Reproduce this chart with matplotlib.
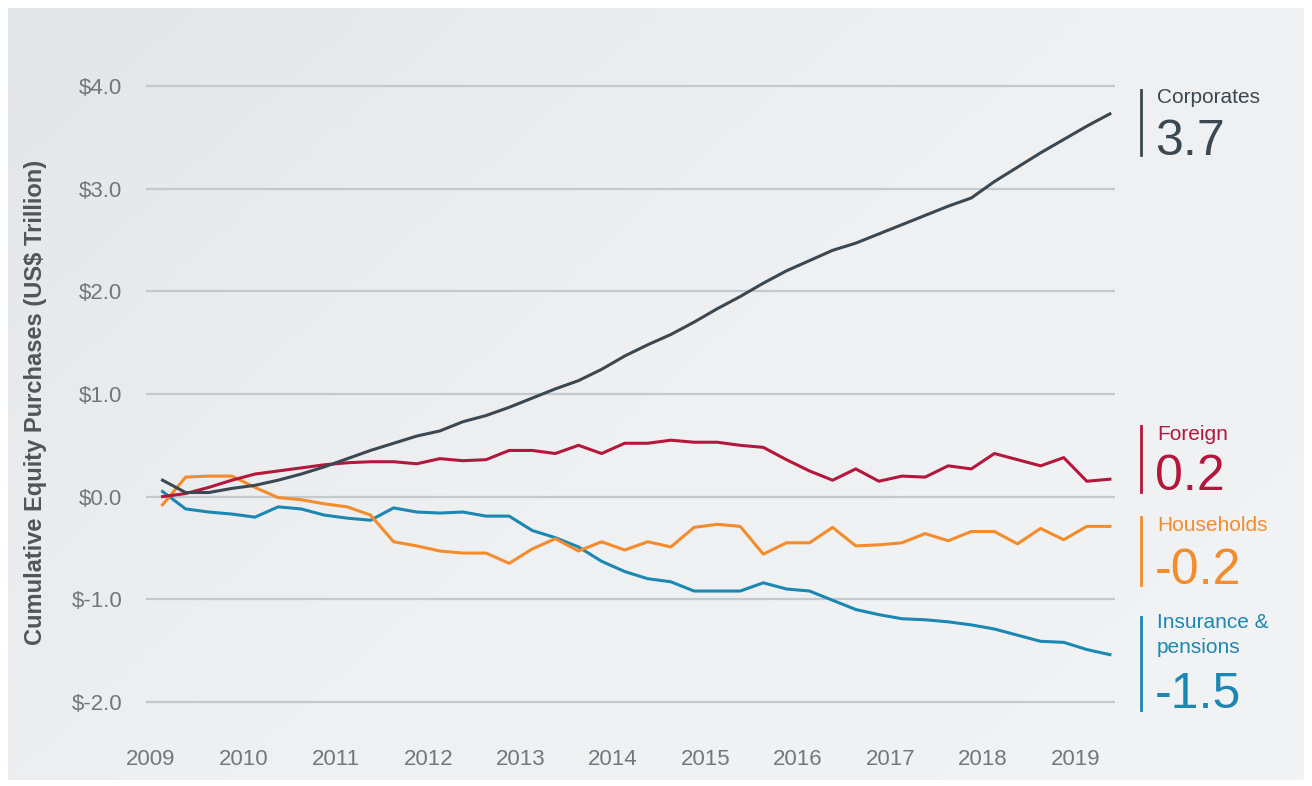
import numpy as np
import matplotlib
matplotlib.use("Agg")
import matplotlib.pyplot as plt
from matplotlib.colors import LinearSegmentedColormap

# quarterly observations, 2009 Q1 .. 2019 Q2 (decimal year, mid-quarter)
quarters = 2009.125 + 0.25 * np.arange(42)

corporates = [0.16, 0.04, 0.04, 0.08, 0.11, 0.16, 0.22, 0.29, 0.37, 0.45,
              0.52, 0.59, 0.64, 0.73, 0.79, 0.87, 0.96, 1.05, 1.13, 1.24,
              1.37, 1.48, 1.58, 1.70, 1.83, 1.95, 2.08, 2.20, 2.30, 2.40,
              2.47, 2.56, 2.65, 2.74, 2.83, 2.91, 3.07, 3.21, 3.35, 3.48,
              3.61, 3.73]
foreign = [0.00, 0.03, 0.09, 0.16, 0.22, 0.25, 0.28, 0.31, 0.33, 0.34,
           0.34, 0.32, 0.37, 0.35, 0.36, 0.45, 0.45, 0.42, 0.50, 0.42,
           0.52, 0.52, 0.55, 0.53, 0.53, 0.50, 0.48, 0.36, 0.25, 0.16,
           0.27, 0.15, 0.20, 0.19, 0.30, 0.27, 0.42, 0.36, 0.30, 0.38,
           0.15, 0.17]
households = [-0.08, 0.19, 0.20, 0.20, 0.09, -0.01, -0.03, -0.07, -0.10, -0.18,
              -0.44, -0.48, -0.53, -0.55, -0.55, -0.65, -0.51, -0.41, -0.53, -0.44,
              -0.52, -0.44, -0.49, -0.30, -0.27, -0.29, -0.56, -0.45, -0.45, -0.30,
              -0.48, -0.47, -0.45, -0.36, -0.43, -0.34, -0.34, -0.46, -0.31, -0.42,
              -0.29, -0.29]
insurance = [0.05, -0.12, -0.15, -0.17, -0.20, -0.10, -0.12, -0.18, -0.21, -0.23,
             -0.11, -0.15, -0.16, -0.15, -0.19, -0.19, -0.33, -0.40, -0.49, -0.63,
             -0.73, -0.80, -0.83, -0.92, -0.92, -0.92, -0.84, -0.90, -0.92, -1.01,
             -1.10, -1.15, -1.19, -1.20, -1.22, -1.25, -1.29, -1.35, -1.41, -1.42,
             -1.49, -1.54]

series_names = ["Corporates", "Foreign", "Households", "Insurance &\npensions"]
end_labels = ["3.7", "0.2", "-0.2", "-1.5"]
colors = ["#3b4851", "#b3173c", "#f48c2c", "#1b87b3"]

year_ticks = list(range(2009, 2020))
y_ticks = [-2.0, -1.0, 0.0, 1.0, 2.0, 3.0, 4.0]
y_ticklabels = ["$" + format(v, ".1f") for v in y_ticks]

W, H = 1312, 786
plt.rcParams["font.family"] = ["Liberation Sans", "DejaVu Sans"]

fig = plt.figure(figsize=(W / 100, H / 100), dpi=100)
fig.patch.set_facecolor("white")


def px(x, y):
    return x / W, 1 - y / H


# light gray panel with a soft gradient
bg = fig.add_axes([8 / W, 1 - 780 / H, 1296 / W, 772 / H], zorder=0)
gx, gy = np.meshgrid(np.linspace(0, 1, 200), np.linspace(0, 1, 120))
grad = 0.6 * gx + 0.4 * gy
cmap = LinearSegmentedColormap.from_list("bg", ["#e3e6e9", "#eff0f2", "#f2f3f4"])
bg.imshow(grad, cmap=cmap, aspect="auto", extent=[0, 1, 0, 1], origin="upper")
bg.set_axis_off()

ax = fig.add_axes([146 / W, 1 - 707 / H, 969 / W, 626 / H], zorder=1)
ax.patch.set_alpha(0)

for vals, c in zip([insurance, households, foreign, corporates], colors[::-1]):
    ax.plot(quarters, vals, color=c, lw=2.2, solid_joinstyle="round", zorder=3)

ax.set_xlim(2008.946, 2019.43)
ax.set_ylim(-2.05, 4.05)
ax.set_yticks(y_ticks)
ax.set_yticklabels(y_ticklabels)
ax.set_xticks(year_ticks)
ax.set_xticklabels([str(y) for y in year_ticks])
ax.grid(axis="y", color="#c4c9cd", lw=1.6, zorder=1)
ax.tick_params(axis="both", length=0, labelsize=16, labelcolor="#73777b")
ax.tick_params(axis="y", pad=17)
ax.tick_params(axis="x", pad=30)
for s in ax.spines.values():
    s.set_visible(False)

fig.text(*px(36, 402), "Cumulative Equity Purchases (US$ Trillion)", rotation=90,
         ha="center", va="center", fontsize=17, fontweight="bold", color="#4f555a")

# right-hand labels: (bar top, bar bottom, name top, number baseline)
label_layout = [
    (90, 155, 88, 155),
    (426, 492, 425, 490),
    (517, 585, 516, 584),
    (617, 710, 613, 708),
]
for name, val, c, (b0, b1, name_y, val_y) in zip(series_names, end_labels, colors, label_layout):
    fig.add_artist(plt.Line2D([1141 / W, 1141 / W], [1 - b0 / H, 1 - b1 / H], color=c, lw=2.0))
    fig.text(*px(1157, name_y), name, ha="left", va="top", fontsize=15,
             color=c, linespacing=1.4)
    fig.text(*px(1155, val_y), val, ha="left", va="baseline", fontsize=36, color=c)

fig.savefig("out.png", dpi=100)
